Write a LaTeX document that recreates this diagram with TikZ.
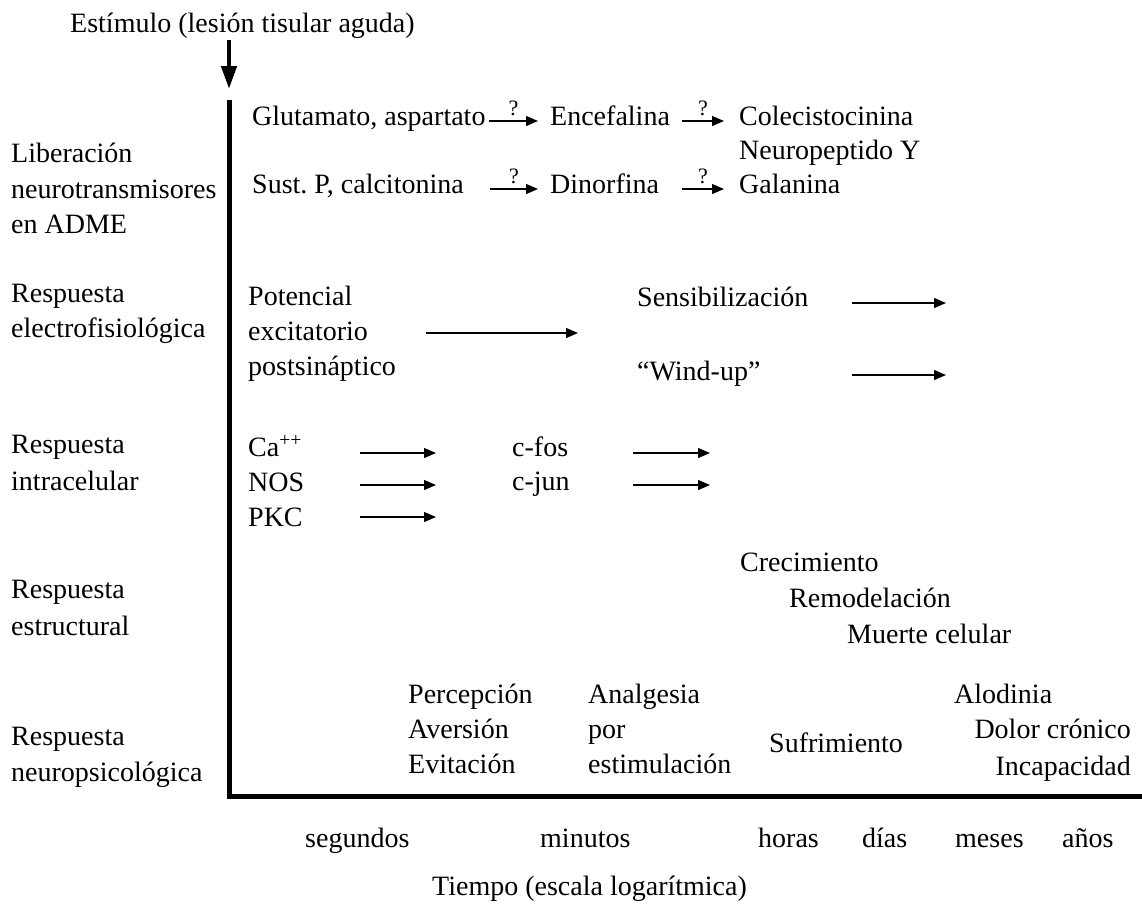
\documentclass[tikz,border=0pt]{standalone}
\usepackage{fontspec}
\setmainfont{Liberation Serif}
\usetikzlibrary{arrows.meta}
\frenchspacing
\begin{document}
\begin{tikzpicture}[x=1pt,y=-1pt,
  t/.style={font=\fontsize{28}{34}\selectfont, inner sep=0pt, anchor=base west},
  tr/.style={t, anchor=base east},
  q/.style={font=\fontsize{22}{26}\selectfont, inner sep=0pt, anchor=base},
  arr/.style={line width=1.3pt, -{Triangle[length=12pt,width=10pt]}},
  axisline/.style={line width=5pt, line join=miter},
  bigarr/.style={line width=4.5pt, -{Triangle[length=23pt,width=15pt]}}]
\useasboundingbox (0,0) rectangle (1142,905);

% title and stimulus arrow
\node[t] (title) at (70,32) {Estímulo (lesión tisular aguda)};
\coordinate (s0) at (229,40);
\coordinate (s1) at (229,89);
\draw[bigarr] (s0) -- (s1);

% axes
\coordinate (ytop) at (229,100);
\coordinate (orig) at (229,796);
\coordinate (xend) at (1142,796);
\draw[axisline] (ytop) -- (orig) -- (xend);

% left labels
\node[t] (l1a) at (11,162) {Liberación};
\node[t] (l1b) at (11,198) {neurotransmisores};
\node[t] (l1c) at (11,233) {en ADME};
\node[t] (l2a) at (11,302) {Respuesta};
\node[t] (l2b) at (11,337) {electrofisiológica};
\node[t] (l3a) at (11,453) {Respuesta};
\node[t] (l3b) at (11,490) {intracelular};
\node[t] (l4a) at (11,598) {Respuesta};
\node[t] (l4b) at (11,635) {estructural};
\node[t] (l5a) at (11,745) {Respuesta};
\node[t] (l5b) at (11,781) {neuropsicológica};

% row 1: neurotransmitters
\node[t] (glu) at (252,125) {Glutamato, aspartato};
\node[t] (enc) at (550,125) {Encefalina};
\node[t] (col) at (739,125) {Colecistocinina};
\node[t] (npy) at (739,159) {Neuropeptido Y};
\node[t] (sus) at (252,193) {Sust. P, calcitonina};
\node[t] (din) at (550,193) {Dinorfina};
\node[t] (gal) at (739,193) {Galanina};
\coordinate (a1s) at (489,121); \coordinate (a1e) at (538,121);
\coordinate (a2s) at (682,121); \coordinate (a2e) at (724,121);
\coordinate (a3s) at (490,189); \coordinate (a3e) at (538,189);
\coordinate (a4s) at (682,189); \coordinate (a4e) at (724,189);
\draw[arr] (a1s) -- node[q, above=5pt] (q1) {?} (a1e);
\draw[arr] (a2s) -- node[q, above=5pt] (q2) {?} (a2e);
\draw[arr] (a3s) -- node[q, above=5pt] (q3) {?} (a3e);
\draw[arr] (a4s) -- node[q, above=5pt] (q4) {?} (a4e);

% row 2: electrophysiology
\node[t] (pot) at (248,305) {Potencial};
\node[t] (exc) at (248,340) {excitatorio};
\node[t] (pos) at (248,375) {postsináptico};
\coordinate (e1s) at (426,333); \coordinate (e1e) at (578,333);
\draw[arr] (e1s) -- (e1e);
\node[t] (sen) at (637,306) {Sensibilización};
\coordinate (e2s) at (852,303); \coordinate (e2e) at (946,303);
\draw[arr] (e2s) -- (e2e);
\node[t] (win) at (637,380) {``Wind-up''};
\coordinate (e3s) at (852,375); \coordinate (e3e) at (946,375);
\draw[arr] (e3s) -- (e3e);

% row 3: intracellular
\node[t] (ca) at (248,456) {Ca\textsuperscript{++}};
\node[t] (nos) at (248,491) {NOS};
\node[t] (pkc) at (248,526) {PKC};
\node[t] (fos) at (512,456) {c-fos};
\node[t] (jun) at (512,490) {c-jun};
\coordinate (i1s) at (360,453); \coordinate (i1e) at (436,453);
\coordinate (i2s) at (360,485); \coordinate (i2e) at (436,485);
\coordinate (i3s) at (360,517); \coordinate (i3e) at (436,517);
\coordinate (i4s) at (633,453); \coordinate (i4e) at (710,453);
\coordinate (i5s) at (633,485); \coordinate (i5e) at (710,485);
\draw[arr] (i1s) -- (i1e);
\draw[arr] (i2s) -- (i2e);
\draw[arr] (i3s) -- (i3e);
\draw[arr] (i4s) -- (i4e);
\draw[arr] (i5s) -- (i5e);

% row 4: structural
\node[t] (cre) at (740,571) {Crecimiento};
\node[t] (rem) at (789,607) {Remodelación};
\node[t] (mue) at (847,643) {Muerte celular};

% row 5: neuropsychological
\node[t] (per) at (408,703) {Percepción};
\node[t] (ave) at (408,738) {Aversión};
\node[t] (evi) at (408,773) {Evitación};
\node[t] (ana) at (588,703) {Analgesia};
\node[t] (por) at (588,738) {por};
\node[t] (est) at (588,773) {estimulación};
\node[t] (suf) at (769,752) {Sufrimiento};
\node[t] (alo) at (954,703) {Alodinia};
\node[tr] (dol) at (1131,738) {Dolor crónico};
\node[tr] (inc) at (1131,775) {Incapacidad};

% time scale
\node[t] (seg) at (305,847) {segundos};
\node[t] (min) at (540,847) {minutos};
\node[t] (hor) at (758,847) {horas};
\node[t] (dia) at (862,847) {días};
\node[t] (mes) at (955,847) {meses};
\node[t] (ano) at (1062,847) {años};
\node[t] (tie) at (432,895) {Tiempo (escala logarítmica)};
\end{tikzpicture}
\end{document}
